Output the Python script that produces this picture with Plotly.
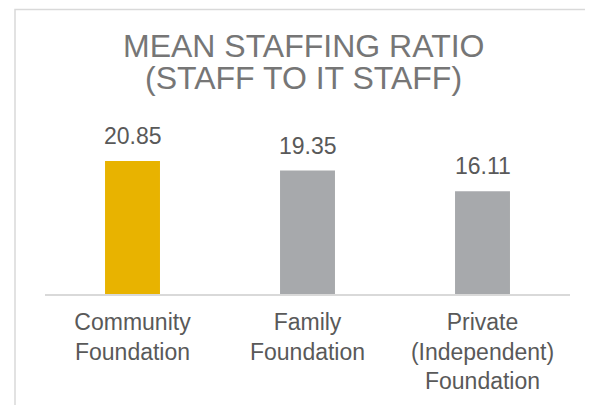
import plotly.graph_objects as go

categories = ["Community<br>Foundation", "Family<br>Foundation", "Private<br>(Independent)<br>Foundation"]
values = [20.85, 19.35, 16.11]
labels = ["20.85", "19.35", "16.11"]
bar_colors = ["#E8B300", "#A7A9AC", "#A7A9AC"]
title_lines = ["MEAN STAFFING RATIO", "(STAFF TO IT STAFF)"]

# page body has an 8px default margin; figure sized to fit the window
W, H = 585, 397
OFF = 8
def px(v):
    return v - OFF

base_px = px(294)
top_px = px(134.5)
ymax = 25
FONT = "Liberation Sans, Arial"

fig = go.Figure()
fig.add_trace(go.Bar(
    x=categories, y=values, marker=dict(color=bar_colors, line=dict(width=0)),
    width=0.314, hoverinfo="skip",
))

for c, v, t in zip(categories, values, labels):
    fig.add_annotation(x=c, y=v, text=t, showarrow=False, yanchor="bottom",
                       yshift=10, font=dict(family=FONT, size=23, color="#595959"))

for i, (line, yc) in enumerate(zip(title_lines, [46, 78])):
    fig.add_annotation(xref="paper", yref="paper", x=(px(303)) / W, y=1 - px(yc) / H,
                       xanchor="center", yanchor="middle", showarrow=False, text=line,
                       font=dict(family=FONT, size=32, color="#767676"))

fig.update_layout(
    width=W, height=H,
    margin=dict(l=0, r=0, t=0, b=0),
    paper_bgcolor="white", plot_bgcolor="white",
    showlegend=False,
    xaxis=dict(domain=[px(45) / W, px(570) / W], showline=True, linecolor="#D9D9D9", linewidth=2,
               ticks="", showgrid=False, zeroline=False, ticklabelstandoff=6,
               tickfont=dict(family=FONT, size=23, color="#595959")),
    yaxis=dict(domain=[1 - base_px / H, 1 - top_px / H], range=[0, ymax], visible=False,
               showgrid=False, zeroline=False),
    shapes=[dict(type="rect", xref="paper", yref="paper", x0=px(15) / W, x1=px(589) / W,
                 y0=-0.2, y1=1 - px(9.5) / H, line=dict(color="#D9D9D9", width=1.5), layer="below")],
)

fig.write_html("out.html")
